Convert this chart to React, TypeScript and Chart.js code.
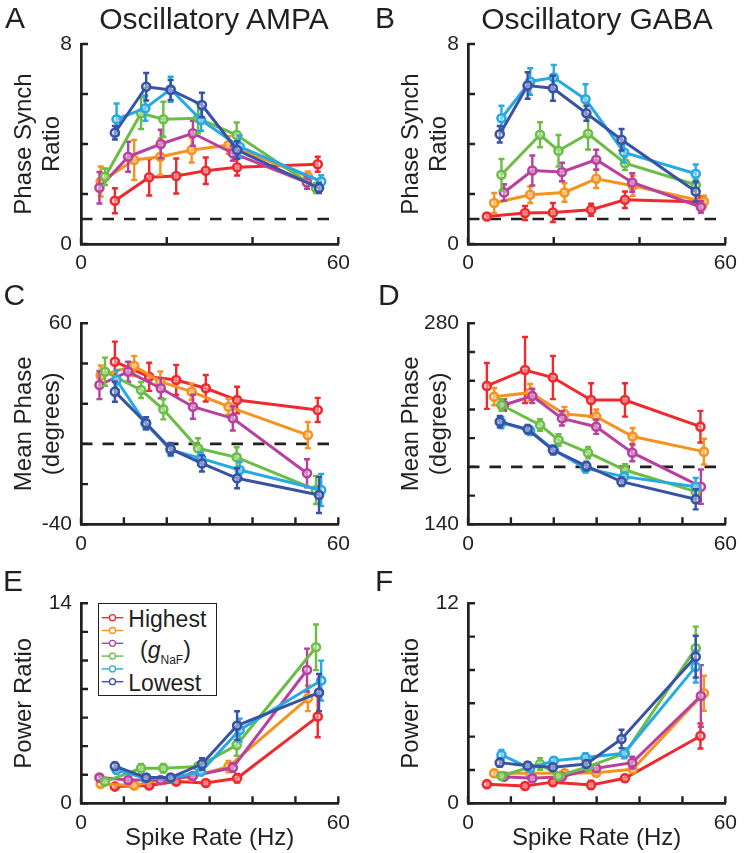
import React, { useEffect, useRef } from 'react';
import { Chart, registerables } from 'chart.js';

Chart.register(...registerables);

const FONT = '"Liberation Sans", Arial, Helvetica, sans-serif';
const INK = '#231f20';

// ---------- data ----------
const seriesLabels = ['Highest', 'High', 'Mid-high', 'Mid-low', 'Low', 'Lowest'];
const seriesColors = ['#ee2a2e', '#f7921e', '#b8409f', '#6cbd45', '#27aae1', '#3953a4'];

const X_MIN = 0;
const X_MAX = 60;

// spike rates (Hz) per gNaF level (rows: Highest ... Lowest)
const ampaRates = [
  [7.9, 15.9, 22.2, 29.1, 36.4, 55.2],
  [4.6, 12.4, 18.5, 25.8, 34.4, 52.9],
  [4.3, 11.0, 18.6, 26.1, 35.4, 52.7],
  [5.6, 14.0, 19.2, 27.3, 36.3, 54.8],
  [8.3, 15.0, 20.9, 28.0, 37.0, 56.0],
  [7.9, 15.2, 20.9, 28.2, 36.4, 55.5],
];
const gabaRates = [
  [4.4, 13.3, 19.8, 28.7, 36.6, 54.2],
  [6.1, 14.5, 22.5, 29.9, 38.4, 55.0],
  [8.4, 15.0, 21.9, 29.9, 38.3, 54.3],
  [7.8, 16.8, 21.1, 28.0, 36.6, 53.1],
  [7.8, 14.5, 20.0, 27.4, 36.4, 53.1],
  [7.4, 13.9, 19.8, 27.6, 35.8, 53.1],
];

// A: phase synch ratio, oscillatory AMPA
const synchAmpa = [
  [1.73, 2.67, 2.72, 2.93, 3.07, 3.19],
  [2.5, 3.36, 3.49, 3.76, 3.96, 2.7],
  [2.25, 3.49, 4.0, 4.43, 3.63, 2.46],
  [2.69, 5.23, 4.99, 5.03, 4.36, 2.24],
  [4.99, 5.43, 6.19, 4.96, 3.89, 2.5],
  [4.45, 6.29, 6.16, 5.56, 3.76, 2.24],
];
const synchAmpaErr = [
  [0.5, 0.73, 0.7, 0.53, 0.33, 0.3],
  [0.6, 0.8, 0.73, 0.5, 0.35, 0.2],
  [0.63, 0.6, 0.57, 0.5, 0.3, 0.25],
  [0.33, 0.63, 0.7, 0.6, 0.5, 0.2],
  [0.63, 0.5, 0.5, 0.43, 0.45, 0.25],
  [0.27, 0.55, 0.4, 0.49, 0.35, 0.2],
];
// B: phase synch ratio, oscillatory GABA
const synchGaba = [
  [1.1, 1.24, 1.26, 1.37, 1.77, 1.68],
  [1.64, 1.97, 2.06, 2.61, 2.33, 1.7],
  [2.06, 2.94, 2.88, 3.37, 2.46, 1.48],
  [2.77, 4.37, 3.73, 4.41, 3.23, 2.37],
  [5.03, 6.5, 6.66, 5.79, 3.66, 2.81],
  [4.39, 6.34, 6.23, 5.23, 4.17, 2.1],
];
const synchGabaErr = [
  [0.1, 0.28, 0.38, 0.24, 0.33, 0.23],
  [0.4, 0.33, 0.37, 0.37, 0.4, 0.23],
  [0.33, 0.6, 0.37, 0.4, 0.37, 0.23],
  [0.63, 0.5, 0.63, 0.63, 0.27, 0.23],
  [0.5, 0.53, 0.5, 0.6, 0.4, 0.37],
  [0.33, 0.53, 0.5, 0.3, 0.43, 0.4],
];
// C: mean phase (degrees), AMPA
const phaseAmpa = [
  [40.9, 33.4, 31.8, 27.7, 21.8, 16.9],
  [34.0, 38.8, 31.0, 26.0, 18.5, 4.4],
  [29.3, 35.9, 27.7, 18.5, 12.7, -14.6],
  [35.9, 26.8, 17.2, -2.2, -6.7, -22.9],
  [31.8, 10.3, -3.0, -7.2, -13.0, -22.9],
  [26.0, 10.3, -2.5, -9.7, -17.1, -25.4],
];
const phaseAmpaErr = [
  [10, 7, 7.5, 6.6, 6.6, 6],
  [5, 5, 5, 4, 4, 6.5],
  [7, 5, 5, 6, 6, 7],
  [7, 4, 5, 5, 5, 7],
  [5, 3, 3, 3, 4, 8],
  [5, 3, 3, 4, 5, 9],
];
// D: mean phase (degrees), GABA
const phaseGaba = [
  [236.4, 247.5, 242.2, 226.6, 226.6, 208.0],
  [228.9, 231.7, 216.8, 215.0, 201.1, 190.6],
  [223.1, 229.4, 213.8, 208.0, 189.9, 166.2],
  [223.1, 209.2, 198.7, 189.9, 177.8, 162.8],
  [210.8, 205.2, 191.8, 179.0, 173.2, 166.2],
  [211.5, 206.2, 191.8, 180.6, 169.7, 157.4],
];
const phaseGabaErr = [
  [16, 23, 15, 11.6, 11.6, 11],
  [6, 6, 5, 5, 6, 9],
  [4, 5, 5, 5, 6, 12],
  [4, 4, 4, 4, 4, 5],
  [4, 3, 3, 3, 3, 6],
  [4, 3, 3, 3, 3, 7],
];
// E: power ratio, AMPA
const powerAmpa = [
  [1.17, 1.25, 1.52, 1.42, 1.75, 6.07],
  [1.35, 1.25, 1.63, 1.87, 2.57, 7.35],
  [1.8, 1.63, 1.63, 1.91, 2.5, 9.33],
  [1.52, 2.45, 2.45, 2.57, 4.08, 10.92],
  [2.33, 1.75, 1.75, 2.22, 5.13, 8.59],
  [2.6, 1.8, 1.8, 2.75, 5.44, 7.75],
];
const powerAmpaErr = [
  [0.15, 0.15, 0.2, 0.2, 0.3, 1.45],
  [0.15, 0.15, 0.15, 0.2, 0.4, 0.9],
  [0.2, 0.2, 0.2, 0.2, 0.3, 1.5],
  [0.2, 0.3, 0.3, 0.25, 0.75, 1.6],
  [0.2, 0.2, 0.2, 0.25, 0.8, 1.4],
  [0.25, 0.2, 0.2, 0.4, 1.0, 1.3],
];
// F: power ratio, GABA
const powerGaba = [
  [1.15, 1.04, 1.27, 1.1, 1.5, 4.04],
  [1.8, 1.8, 1.8, 1.84, 2.04, 6.6],
  [1.6, 1.5, 1.6, 2.1, 2.44, 6.44],
  [1.64, 2.36, 1.64, 2.2, 3.0, 9.3],
  [2.9, 2.1, 2.55, 2.75, 3.0, 8.2],
  [2.44, 2.26, 2.16, 2.36, 3.86, 8.8],
];
const powerGabaErr = [
  [0.15, 0.15, 0.15, 0.25, 0.2, 0.75],
  [0.2, 0.15, 0.2, 0.2, 0.2, 1.05],
  [0.15, 0.2, 0.15, 0.2, 0.35, 1.85],
  [0.15, 0.35, 0.15, 0.2, 0.25, 1.3],
  [0.3, 0.2, 0.2, 0.25, 0.3, 0.95],
  [0.25, 0.2, 0.2, 0.2, 0.55, 1.25],
];

// reference (dashed) levels
const synchChanceLevel = 1;
const ampaPhaseRef = 0;
const gabaPhaseRef = 180;

// ---------- plugins ----------
const errorBarPlugin = {
  id: 'errorBars',
  beforeDatasetDraw(chart: any, args: any) {
    const ds = chart.data.datasets[args.index];
    if (!ds.errors) return;
    const yScale = chart.scales.y;
    const ctx = chart.ctx;
    const cap = 3;
    ctx.save();
    ctx.strokeStyle = ds.borderColor;
    ctx.lineWidth = 2.4;
    args.meta.data.forEach((pt: any, i: number) => {
      const v = ds.data[i].y;
      const e = ds.errors[i];
      const x = pt.x;
      const yt = yScale.getPixelForValue(v + e);
      const yb = yScale.getPixelForValue(v - e);
      ctx.beginPath();
      ctx.moveTo(x, yt);
      ctx.lineTo(x, yb);
      ctx.moveTo(x - cap, yt);
      ctx.lineTo(x + cap, yt);
      ctx.moveTo(x - cap, yb);
      ctx.lineTo(x + cap, yb);
      ctx.stroke();
    });
    ctx.restore();
  },
};

const inwardTicksPlugin = {
  id: 'inwardTicks',
  afterDraw(chart: any) {
    const { ctx, chartArea } = chart;
    const xs = chart.scales.x;
    const ys = chart.scales.y;
    const len = 7;
    ctx.save();
    ctx.strokeStyle = INK;
    ctx.lineWidth = 2.4;
    ctx.beginPath();
    xs.ticks.forEach((t: any) => {
      const px = xs.getPixelForValue(t.value);
      ctx.moveTo(px, chartArea.bottom);
      ctx.lineTo(px, chartArea.bottom - len);
    });
    ys.ticks.forEach((t: any) => {
      const py = ys.getPixelForValue(t.value);
      ctx.moveTo(chartArea.left, py);
      ctx.lineTo(chartArea.left + len, py);
    });
    ctx.stroke();
    ctx.restore();
  },
};

// ---------- panels ----------
type PanelCfg = {
  key: string;
  left: number;
  top: number;
  width: number;
  height: number;
  padT: number;
  padR: number;
  xH: number;
  rates: number[][];
  values: number[][];
  errors: number[][];
  yMin: number;
  yMax: number;
  yStep: number;
  xStep: number;
  refY: number | null;
  yTitle: string | string[];
  xTitle: string | null;
};

const LEFT_COL = 0;
const RIGHT_COL = 387;
const CW = 357;

const panels: PanelCfg[] = [
  { key: 'A', left: LEFT_COL, top: 0, width: CW, height: 280, padT: 44, padR: 16.3, xH: 36,
    rates: ampaRates, values: synchAmpa, errors: synchAmpaErr, yMin: 0, yMax: 8, yStep: 2, xStep: 20,
    refY: synchChanceLevel, yTitle: ['Phase Synch', 'Ratio'], xTitle: null },
  { key: 'B', left: RIGHT_COL, top: 0, width: CW, height: 280, padT: 44, padR: 13.7, xH: 36,
    rates: gabaRates, values: synchGaba, errors: synchGabaErr, yMin: 0, yMax: 8, yStep: 2, xStep: 20,
    refY: synchChanceLevel, yTitle: ['Phase Synch', 'Ratio'], xTitle: null },
  { key: 'C', left: LEFT_COL, top: 280, width: CW, height: 280, padT: 43.3, padR: 16.3, xH: 35.7,
    rates: ampaRates, values: phaseAmpa, errors: phaseAmpaErr, yMin: -40, yMax: 60, yStep: 20, xStep: 10,
    refY: ampaPhaseRef, yTitle: ['Mean Phase', '(degrees)'], xTitle: null },
  { key: 'D', left: RIGHT_COL, top: 280, width: CW, height: 280, padT: 43.3, padR: 13.7, xH: 35.7,
    rates: gabaRates, values: phaseGaba, errors: phaseGabaErr, yMin: 140, yMax: 280, yStep: 20, xStep: 10,
    refY: gabaPhaseRef, yTitle: ['Mean Phase', '(degrees)'], xTitle: null },
  { key: 'E', left: LEFT_COL, top: 560, width: CW, height: 293, padT: 43.3, padR: 16.3, xH: 49.7,
    rates: ampaRates, values: powerAmpa, errors: powerAmpaErr, yMin: 0, yMax: 14, yStep: 2, xStep: 10,
    refY: null, yTitle: 'Power Ratio', xTitle: 'Spike Rate (Hz)' },
  { key: 'F', left: RIGHT_COL, top: 560, width: CW, height: 293, padT: 43.3, padR: 13.7, xH: 49.7,
    rates: gabaRates, values: powerGaba, errors: powerGabaErr, yMin: 0, yMax: 12, yStep: 2, xStep: 10,
    refY: null, yTitle: 'Power Ratio', xTitle: 'Spike Rate (Hz)' },
];

function PanelChart({ cfg }: { cfg: PanelCfg }) {
  const ref = useRef<HTMLCanvasElement>(null);
  useEffect(() => {
    const datasets: any[] = [];
    if (cfg.refY !== null) {
      datasets.push({
        label: 'reference',
        data: [{ x: X_MIN, y: cfg.refY }, { x: X_MAX, y: cfg.refY }],
        borderColor: INK,
        borderWidth: 2.7,
        borderDash: [11.5, 10],
        pointRadius: 0,
        order: 100,
      });
    }
    cfg.values.forEach((vals, s) => {
      datasets.push({
        label: seriesLabels[s],
        data: vals.map((v, i) => ({ x: cfg.rates[s][i], y: v })),
        errors: cfg.errors[s],
        borderColor: seriesColors[s],
        backgroundColor: seriesColors[s],
        borderWidth: 3,
        pointRadius: 4,
        pointBorderWidth: 2.6,
        pointBorderColor: seriesColors[s],
        pointBackgroundColor: 'rgba(255,255,255,0.4)',
        tension: 0,
        order: 6 - s,
      });
    });
    const tickFont = { family: FONT, size: 21 };
    const titleFont = { family: FONT, size: 24 };
    const chart = new Chart(ref.current as HTMLCanvasElement, {
      type: 'line',
      data: { datasets },
      options: {
        animation: false,
        responsive: false,
        maintainAspectRatio: false,
        layout: { padding: { top: cfg.padT, right: cfg.padR, left: 0, bottom: 0 } },
        plugins: { legend: { display: false }, tooltip: { enabled: false }, title: { display: false } },
        scales: {
          x: {
            type: 'linear',
            min: X_MIN,
            max: X_MAX,
            grid: { display: false, drawTicks: false },
            border: { display: true, color: INK, width: 2.7 },
            ticks: {
              stepSize: cfg.xStep,
              autoSkip: false,
              maxRotation: 0,
              padding: 7,
              color: INK,
              font: tickFont,
              callback: (v: any) => (v === X_MIN || v === X_MAX ? String(v) : ''),
            },
            title: cfg.xTitle
              ? { display: true, text: cfg.xTitle, color: INK, font: titleFont, padding: { top: 0, bottom: 0 } }
              : { display: false },
            afterFit: (s: any) => {
              s.height = cfg.xH;
            },
          },
          y: {
            type: 'linear',
            min: cfg.yMin,
            max: cfg.yMax,
            grid: { display: false, drawTicks: false },
            border: { display: true, color: INK, width: 2.7 },
            ticks: {
              stepSize: cfg.yStep,
              autoSkip: false,
              padding: 9,
              color: INK,
              font: tickFont,
              callback: (v: any) => (v === cfg.yMin || v === cfg.yMax ? String(v) : ''),
            },
            title: { display: true, text: cfg.yTitle, color: INK, font: titleFont, padding: { top: 9.6, bottom: 0 } },
            afterFit: (s: any) => {
              s.width = 81;
            },
          },
        },
      } as any,
      plugins: [errorBarPlugin, inwardTicksPlugin],
    });
    return () => chart.destroy();
  }, [cfg]);
  return (
    <canvas
      ref={ref}
      width={cfg.width}
      height={cfg.height}
      style={{ position: 'absolute', left: cfg.left, top: cfg.top, width: cfg.width, height: cfg.height }}
    />
  );
}

const panelLetters = [
  { t: 'A', left: 5, top: 3 },
  { t: 'B', left: 375, top: 3 },
  { t: 'C', left: 3.5, top: 280 },
  { t: 'D', left: 378, top: 280 },
  { t: 'E', left: 3, top: 566.3 },
  { t: 'F', left: 375, top: 566.3 },
];

const columnTitles = [
  { t: 'Oscillatory AMPA', cx: 214 },
  { t: 'Oscillatory GABA', cx: 597 },
];

function Legend() {
  const rowY = (i: number) => 14.7 + i * 12.8;
  return (
    <div style={{ position: 'absolute', left: 98, top: 603, width: 119, height: 93, fontFamily: FONT, color: INK }}>
      <div
        style={{
          position: 'absolute',
          left: 0,
          top: 0,
          width: 119,
          height: 93,
          boxSizing: 'border-box',
          border: `1.5px solid ${INK}`,
          background: '#fff',
        }}
      />
      <svg width={119} height={93} style={{ position: 'absolute', left: 0, top: 0 }}>
        {seriesColors.map((c, i) => (
          <g key={i}>
            <line x1={3.7} x2={25.3} y1={rowY(i)} y2={rowY(i)} stroke={c} strokeWidth={1.4} />
            <circle cx={14.5} cy={rowY(i)} r={3} fill="#fff" stroke={c} strokeWidth={1.3} />
          </g>
        ))}
      </svg>
      <div style={{ position: 'absolute', left: 30.3, top: 4.6, fontSize: 23, lineHeight: '23px', whiteSpace: 'nowrap' }}>
        {seriesLabels[0]}
      </div>
      <div style={{ position: 'absolute', left: 42, top: 35.9, fontSize: 23, lineHeight: '23px', whiteSpace: 'nowrap' }}>
        (<i>g</i>
        <span style={{ fontSize: 12, position: 'relative', top: 6 }}>NaF</span>)
      </div>
      <div style={{ position: 'absolute', left: 30.3, top: 68.6, fontSize: 23, lineHeight: '23px', whiteSpace: 'nowrap' }}>
        {seriesLabels[5]}
      </div>
    </div>
  );
}

export default function App() {
  return (
    <div
      style={{
        position: 'absolute',
        left: 0,
        top: 0,
        width: 744,
        height: 853,
        background: '#fff',
        overflow: 'hidden',
        fontFamily: FONT,
        color: INK,
      }}
    >
      {panels.map((p) => (
        <PanelChart key={p.key} cfg={p} />
      ))}
      {columnTitles.map((c) => (
        <div
          key={c.t}
          style={{
            position: 'absolute',
            left: c.cx - 200,
            width: 400,
            top: 3.9,
            textAlign: 'center',
            fontSize: 30,
            lineHeight: '30px',
            whiteSpace: 'nowrap',
          }}
        >
          {c.t}
        </div>
      ))}
      {panelLetters.map((l) => (
        <div
          key={l.t}
          style={{ position: 'absolute', left: l.left, top: l.top, fontSize: 30, lineHeight: '30px' }}
        >
          {l.t}
        </div>
      ))}
      <Legend />
    </div>
  );
}
